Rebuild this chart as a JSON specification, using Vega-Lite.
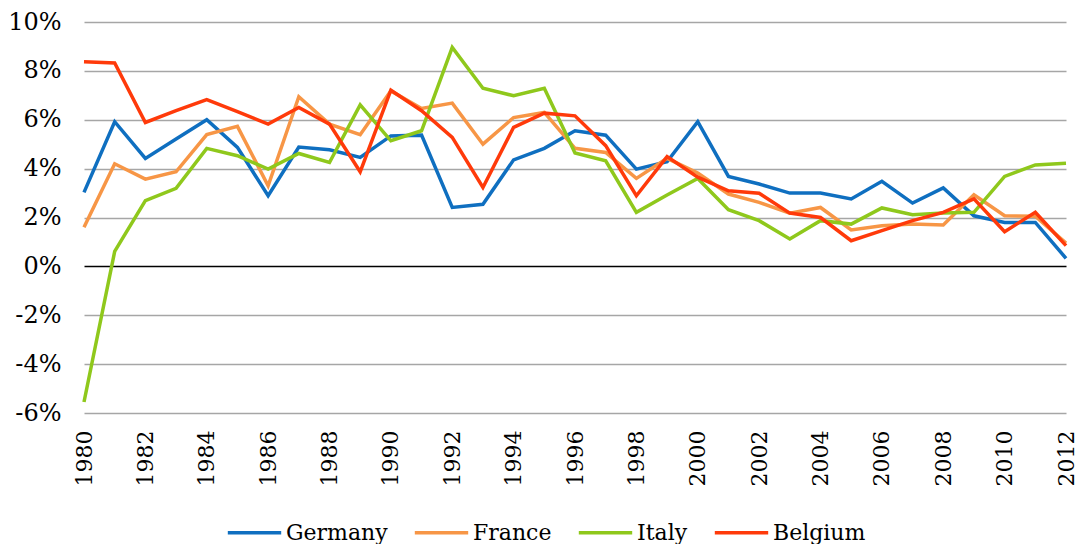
{
  "$schema": "https://vega.github.io/schema/vega-lite/v6.json",
  "autosize": "none",
  "padding": {"left": 84, "top": 22, "right": 11, "bottom": 131},
  "width": 982,
  "height": 391,
  "background": "white",
  "config": {"view": {"stroke": null}},
  "datasets": {
    "rates": [
      {"year": 1980, "country": "Germany", "value": 3.03},
      {"year": 1981, "country": "Germany", "value": 5.92},
      {"year": 1982, "country": "Germany", "value": 4.42},
      {"year": 1983, "country": "Germany", "value": 5.21},
      {"year": 1984, "country": "Germany", "value": 6.0},
      {"year": 1985, "country": "Germany", "value": 4.87},
      {"year": 1986, "country": "Germany", "value": 2.89},
      {"year": 1987, "country": "Germany", "value": 4.88},
      {"year": 1988, "country": "Germany", "value": 4.77},
      {"year": 1989, "country": "Germany", "value": 4.46},
      {"year": 1990, "country": "Germany", "value": 5.34},
      {"year": 1991, "country": "Germany", "value": 5.37},
      {"year": 1992, "country": "Germany", "value": 2.41},
      {"year": 1993, "country": "Germany", "value": 2.54},
      {"year": 1994, "country": "Germany", "value": 4.36},
      {"year": 1995, "country": "Germany", "value": 4.83},
      {"year": 1996, "country": "Germany", "value": 5.55},
      {"year": 1997, "country": "Germany", "value": 5.37},
      {"year": 1998, "country": "Germany", "value": 3.98},
      {"year": 1999, "country": "Germany", "value": 4.28},
      {"year": 2000, "country": "Germany", "value": 5.92},
      {"year": 2001, "country": "Germany", "value": 3.68},
      {"year": 2002, "country": "Germany", "value": 3.37},
      {"year": 2003, "country": "Germany", "value": 3.0},
      {"year": 2004, "country": "Germany", "value": 3.0},
      {"year": 2005, "country": "Germany", "value": 2.76},
      {"year": 2006, "country": "Germany", "value": 3.48},
      {"year": 2007, "country": "Germany", "value": 2.59},
      {"year": 2008, "country": "Germany", "value": 3.21},
      {"year": 2009, "country": "Germany", "value": 2.07},
      {"year": 2010, "country": "Germany", "value": 1.8},
      {"year": 2011, "country": "Germany", "value": 1.8},
      {"year": 2012, "country": "Germany", "value": 0.33},
      {"year": 1980, "country": "France", "value": 1.6},
      {"year": 1981, "country": "France", "value": 4.2},
      {"year": 1982, "country": "France", "value": 3.57},
      {"year": 1983, "country": "France", "value": 3.87},
      {"year": 1984, "country": "France", "value": 5.39},
      {"year": 1985, "country": "France", "value": 5.73},
      {"year": 1986, "country": "France", "value": 3.3},
      {"year": 1987, "country": "France", "value": 6.94},
      {"year": 1988, "country": "France", "value": 5.82},
      {"year": 1989, "country": "France", "value": 5.39},
      {"year": 1990, "country": "France", "value": 7.18},
      {"year": 1991, "country": "France", "value": 6.46},
      {"year": 1992, "country": "France", "value": 6.68},
      {"year": 1993, "country": "France", "value": 5.0},
      {"year": 1994, "country": "France", "value": 6.09},
      {"year": 1995, "country": "France", "value": 6.3},
      {"year": 1996, "country": "France", "value": 4.83},
      {"year": 1997, "country": "France", "value": 4.66},
      {"year": 1998, "country": "France", "value": 3.6},
      {"year": 1999, "country": "France", "value": 4.42},
      {"year": 2000, "country": "France", "value": 3.82},
      {"year": 2001, "country": "France", "value": 2.96},
      {"year": 2002, "country": "France", "value": 2.62},
      {"year": 2003, "country": "France", "value": 2.18},
      {"year": 2004, "country": "France", "value": 2.41},
      {"year": 2005, "country": "France", "value": 1.49},
      {"year": 2006, "country": "France", "value": 1.66},
      {"year": 2007, "country": "France", "value": 1.73},
      {"year": 2008, "country": "France", "value": 1.69},
      {"year": 2009, "country": "France", "value": 2.93},
      {"year": 2010, "country": "France", "value": 2.07},
      {"year": 2011, "country": "France", "value": 2.05},
      {"year": 2012, "country": "France", "value": 0.95},
      {"year": 1980, "country": "Italy", "value": -5.55},
      {"year": 1981, "country": "Italy", "value": 0.61},
      {"year": 1982, "country": "Italy", "value": 2.69},
      {"year": 1983, "country": "Italy", "value": 3.19},
      {"year": 1984, "country": "Italy", "value": 4.83},
      {"year": 1985, "country": "Italy", "value": 4.53},
      {"year": 1986, "country": "Italy", "value": 3.98},
      {"year": 1987, "country": "Italy", "value": 4.62},
      {"year": 1988, "country": "Italy", "value": 4.25},
      {"year": 1989, "country": "Italy", "value": 6.61},
      {"year": 1990, "country": "Italy", "value": 5.14},
      {"year": 1991, "country": "Italy", "value": 5.55},
      {"year": 1992, "country": "Italy", "value": 8.96},
      {"year": 1993, "country": "Italy", "value": 7.29},
      {"year": 1994, "country": "Italy", "value": 6.98},
      {"year": 1995, "country": "Italy", "value": 7.29},
      {"year": 1996, "country": "Italy", "value": 4.64},
      {"year": 1997, "country": "Italy", "value": 4.32},
      {"year": 1998, "country": "Italy", "value": 2.21},
      {"year": 1999, "country": "Italy", "value": 2.92},
      {"year": 2000, "country": "Italy", "value": 3.6},
      {"year": 2001, "country": "Italy", "value": 2.32},
      {"year": 2002, "country": "Italy", "value": 1.87},
      {"year": 2003, "country": "Italy", "value": 1.12},
      {"year": 2004, "country": "Italy", "value": 1.87},
      {"year": 2005, "country": "Italy", "value": 1.73},
      {"year": 2006, "country": "Italy", "value": 2.39},
      {"year": 2007, "country": "Italy", "value": 2.11},
      {"year": 2008, "country": "Italy", "value": 2.18},
      {"year": 2009, "country": "Italy", "value": 2.21},
      {"year": 2010, "country": "Italy", "value": 3.68},
      {"year": 2011, "country": "Italy", "value": 4.15},
      {"year": 2012, "country": "Italy", "value": 4.22},
      {"year": 1980, "country": "Belgium", "value": 8.37},
      {"year": 1981, "country": "Belgium", "value": 8.32},
      {"year": 1982, "country": "Belgium", "value": 5.89},
      {"year": 1983, "country": "Belgium", "value": 6.37},
      {"year": 1984, "country": "Belgium", "value": 6.82},
      {"year": 1985, "country": "Belgium", "value": 6.33},
      {"year": 1986, "country": "Belgium", "value": 5.82},
      {"year": 1987, "country": "Belgium", "value": 6.5},
      {"year": 1988, "country": "Belgium", "value": 5.82},
      {"year": 1989, "country": "Belgium", "value": 3.87},
      {"year": 1990, "country": "Belgium", "value": 7.21},
      {"year": 1991, "country": "Belgium", "value": 6.37},
      {"year": 1992, "country": "Belgium", "value": 5.28},
      {"year": 1993, "country": "Belgium", "value": 3.23},
      {"year": 1994, "country": "Belgium", "value": 5.69},
      {"year": 1995, "country": "Belgium", "value": 6.27},
      {"year": 1996, "country": "Belgium", "value": 6.16},
      {"year": 1997, "country": "Belgium", "value": 4.94},
      {"year": 1998, "country": "Belgium", "value": 2.89},
      {"year": 1999, "country": "Belgium", "value": 4.49},
      {"year": 2000, "country": "Belgium", "value": 3.65},
      {"year": 2001, "country": "Belgium", "value": 3.09},
      {"year": 2002, "country": "Belgium", "value": 2.99},
      {"year": 2003, "country": "Belgium", "value": 2.18},
      {"year": 2004, "country": "Belgium", "value": 2.0},
      {"year": 2005, "country": "Belgium", "value": 1.05},
      {"year": 2006, "country": "Belgium", "value": 1.46},
      {"year": 2007, "country": "Belgium", "value": 1.87},
      {"year": 2008, "country": "Belgium", "value": 2.21},
      {"year": 2009, "country": "Belgium", "value": 2.76},
      {"year": 2010, "country": "Belgium", "value": 1.42},
      {"year": 2011, "country": "Belgium", "value": 2.21},
      {"year": 2012, "country": "Belgium", "value": 0.85}
    ]
  },
  "data": {"name": "rates"},
  "mark": {"type": "line", "strokeWidth": 3.5, "strokeJoin": "miter"},
  "encoding": {
    "x": {
      "field": "year",
      "type": "quantitative",
      "scale": {"domain": [1980, 2012], "nice": false, "zero": false},
      "axis": {
        "title": null,
        "values": [1980, 1982, 1984, 1986, 1988, 1990, 1992, 1994, 1996, 1998, 2000, 2002, 2004, 2006, 2008, 2010, 2012],
        "format": "d",
        "grid": false,
        "domain": false,
        "ticks": false,
        "labelAngle": 270,
        "labelAlign": "right",
        "labelBaseline": "middle",
        "labelPadding": 17,
        "labelFont": "DejaVu Serif",
        "labelFontSize": 22,
        "labelColor": "black",
        "labelOverlap": false,
        "labelFlush": false,
        "labelBound": false
      }
    },
    "y": {
      "field": "value",
      "type": "quantitative",
      "scale": {"domain": [-6, 10], "nice": false, "zero": false},
      "axis": {
        "title": null,
        "values": [-6, -4, -2, 0, 2, 4, 6, 8, 10],
        "labelExpr": "datum.value + '%'",
        "domain": false,
        "ticks": false,
        "grid": true,
        "gridColor": {"condition": {"test": "datum.value === 0", "value": "#000000"}, "value": "#A6A6A6"},
        "gridWidth": 1.5,
        "gridOpacity": 1,
        "labelPadding": 23,
        "labelFont": "DejaVu Serif",
        "labelFontSize": 24,
        "labelColor": "black",
        "labelOverlap": false,
        "labelFlush": false,
        "labelBound": false
      }
    },
    "color": {
      "field": "country",
      "type": "nominal",
      "sort": ["Germany", "France", "Italy", "Belgium"],
      "scale": {
        "domain": ["Germany", "France", "Italy", "Belgium"],
        "range": ["#0F6FC0", "#F79646", "#8FC81C", "#FF3A0A"]
      },
      "legend": {
        "title": null,
        "orient": "none",
        "direction": "horizontal",
        "legendX": 142,
        "legendY": 482,
        "symbolType": "stroke",
        "symbolSize": 2850,
        "symbolStrokeWidth": 3.5,
        "symbolOpacity": 1,
        "labelFont": "DejaVu Serif",
        "labelFontSize": 22,
        "labelColor": "black",
        "labelOffset": 3,
        "columnPadding": 19
      }
    },
    "order": {"field": "year", "type": "quantitative"}
  }
}
